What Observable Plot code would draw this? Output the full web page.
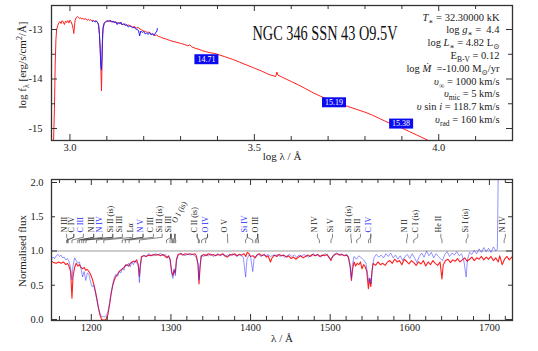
<!DOCTYPE html>
<html><head><meta charset="utf-8">
<script src="https://cdn.jsdelivr.net/npm/d3@7"></script>
<script src="https://cdn.jsdelivr.net/npm/@observablehq/plot@0.6"></script>
<style>body{margin:0;background:#fff} #chart svg{display:block}</style>
</head><body><div id="chart"></div>
<script>
// ---------- TOP PANEL DATA (log lambda vs log f_lambda) ----------
const sedModelLogW = [2.955,2.958,2.960,2.962,2.964,2.967,2.970,2.973,2.976,2.979,2.982,2.985,2.988,2.991,2.994,2.997,3.000,3.003,3.006,3.009,3.0105,3.012,3.014,3.017,3.020,3.023,3.026,3.029,3.032,3.035,3.038,3.041,3.044,3.047,3.050,3.053,3.056,3.059,3.062,3.066,3.070,3.074,3.077,3.080,3.082,3.084,3.0855,3.087,3.0885,3.090,3.093,3.096,3.100,3.104,3.108,3.112,3.116,3.120,3.125,3.130,3.135,3.140,3.145,3.150,3.155,3.160,3.165,3.170,3.175,3.180,3.185,3.190,3.195,3.200,3.205,3.210,3.215,3.220,3.225,3.230,3.235,3.240,3.245,3.250,3.260,3.270,3.280,3.290,3.300,3.310,3.320,3.325,3.330,3.340,3.350,3.360,3.370,3.380,3.390,3.400,3.420,3.440,3.460,3.480,3.500,3.520,3.540,3.558,3.561,3.564,3.580,3.600,3.620,3.640,3.660,3.680,3.700,3.720,3.740,3.760,3.780,3.800,3.820,3.840,3.860,3.880,3.900,3.920,3.940,3.960,3.980];
const sedModelLogF = [-15.4,-14.6,-13.7,-13.2,-13.0,-12.92,-12.86,-12.84,-12.88,-12.82,-12.85,-12.90,-12.83,-12.86,-12.82,-12.87,-12.81,-12.84,-12.90,-13.0,-13.08,-12.95,-12.82,-12.76,-12.74,-12.75,-12.78,-12.76,-12.79,-12.77,-12.80,-12.78,-12.79,-12.81,-12.79,-12.82,-12.80,-12.83,-12.81,-12.84,-12.82,-12.85,-12.88,-13.1,-13.4,-13.8,-14.24,-13.7,-13.2,-12.98,-12.88,-12.85,-12.84,-12.82,-12.84,-12.83,-12.85,-12.84,-12.86,-12.87,-12.86,-12.89,-12.90,-12.89,-12.92,-12.91,-12.93,-12.95,-12.94,-12.97,-12.96,-12.99,-13.01,-13.03,-13.04,-13.06,-13.05,-13.09,-13.10,-13.12,-13.11,-13.14,-13.15,-13.17,-13.19,-13.22,-13.24,-13.26,-13.28,-13.30,-13.33,-13.31,-13.35,-13.38,-13.40,-13.43,-13.45,-13.47,-13.48,-13.50,-13.55,-13.60,-13.66,-13.72,-13.78,-13.84,-13.91,-13.95,-13.86,-13.92,-13.98,-14.05,-14.12,-14.20,-14.28,-14.35,-14.41,-14.47,-14.52,-14.57,-14.62,-14.67,-14.73,-14.80,-14.87,-14.93,-14.99,-15.06,-15.13,-15.20,-15.27];
const sedObsLogW = [3.061,3.064,3.068,3.072,3.075,3.078,3.080,3.082,3.084,3.0855,3.087,3.0885,3.090,3.093,3.097,3.101,3.105,3.109,3.113,3.117,3.121,3.124,3.128,3.131,3.135,3.138,3.142,3.146,3.150,3.154,3.158,3.162,3.166,3.170,3.174,3.178,3.182,3.186,3.189,3.192,3.196,3.200,3.204,3.208,3.212,3.216,3.220,3.224,3.228,3.232,3.236,3.237];
const sedObsLogF = [-12.84,-12.82,-12.85,-12.83,-12.86,-12.92,-13.1,-13.4,-13.75,-13.82,-13.5,-13.1,-12.95,-12.87,-12.84,-12.82,-12.84,-12.81,-12.85,-12.83,-12.87,-12.84,-12.90,-12.86,-12.89,-12.85,-12.91,-12.88,-12.92,-12.90,-12.95,-12.93,-12.94,-12.97,-12.95,-12.99,-13.00,-13.02,-13.13,-13.03,-13.06,-13.04,-13.09,-13.07,-13.10,-13.06,-13.11,-13.08,-13.12,-13.07,-13.03,-12.98];
const magLogW = [3.370, 3.716, 3.898];
const magLogF = [-13.60, -14.47, -14.90];
const magText = ["14.71", "15.19", "15.38"];
const topXTicks = [3.0,3.1,3.2,3.3,3.4,3.5,3.6,3.7,3.8,3.9,4.0,4.1];
const topXLabels = [3.0, 3.5, 4.0];
const topYTicks = [-13,-13.5,-14,-14.5,-15];
const topYLabels = [-13,-14,-15];
const titleText = "NGC 346 SSN 43 O9.5V";
const paramSegs = [
  [["T","i"],["∗","sub"],[" = 32.30000 kK",""]],
  [["log ",""],["g","i"],["∗","sub"],[" =  4.4",""]],
  [["log ",""],["L","i"],["∗","sub"],[" = 4.82 L",""],["⊙","sub"]],
  [["E",""],["B-V","sub"],[" = 0.12",""]],
  [["log ",""],["Ṁ","i"],["  =-10.00 M",""],["⊙","sub"],["/yr",""]],
  [["υ","i"],["∞","sub"],[" = 1000 km/s",""]],
  [["υ","i"],["mic","sub"],[" = 5 km/s",""]],
  [["υ","i"],[" sin ",""],["i","i"],[" = 118.7 km/s",""]],
  [["υ","i"],["rad","sub"],[" = 160 km/s",""]]
];
const topXLabel = "log λ / Å";
const topYLabelSegs = [["log f",""],["λ","sub"],[" [erg/s/cm",""],["2","sup"],["/Å]",""]];

// ---------- BOTTOM PANEL DATA (normalised flux) ----------
const modelW = [1150,1153,1156,1159,1162,1165,1168,1170,1172,1174,1175.7,1177,1179,1181,1183,1185,1187,1189,1191,1193,1195,1197,1199,1201,1203,1205,1207,1209,1211,1213,1215,1217,1219,1221,1223,1225,1227,1229,1231,1233,1235,1237,1239,1241,1243,1245,1247,1249,1251,1253,1255,1257,1259,1260.4,1261.5,1263,1266,1269,1272,1275,1278,1281,1284,1287,1290,1293,1295,1297,1299,1301,1302.5,1304,1305.5,1307,1309,1312,1315,1318,1321,1324,1327,1330,1332,1334,1335.3,1336.5,1338,1341,1344,1347,1350,1353,1356,1359,1362,1365,1368,1371,1374,1377,1380,1383,1386,1389,1392,1394,1396,1398,1400,1403,1406,1408,1411,1414,1417,1420,1422,1425,1427,1430,1433,1436,1439,1442,1445,1448,1451,1454,1457,1460,1463,1466,1469,1472,1475,1478,1481,1484,1487,1490,1493,1496,1499,1501,1503,1506,1509,1512,1515,1518,1521,1523,1525,1526.7,1528,1530,1532,1534,1536,1538,1540,1542,1544,1546,1548,1549.5,1551,1552.5,1554,1557,1560,1563,1566,1569,1572,1575,1578,1581,1584,1587,1590,1593,1596,1599,1602,1605,1608,1611,1614,1617,1620,1623,1626,1629,1632,1635,1638,1640.4,1642,1645,1648,1651,1654,1657,1660,1663,1666,1669,1672,1675,1678,1681,1684,1687,1690,1693,1696,1699,1702,1705,1708,1711,1713,1716,1719,1722,1725,1728];
const modelF = [0.85,0.83,0.82,0.84,0.82,0.84,0.80,0.82,0.78,0.70,0.31,0.62,0.76,0.82,0.78,0.80,0.76,0.74,0.76,0.72,0.73,0.70,0.66,0.60,0.52,0.42,0.30,0.17,0.06,0.0,-0.01,-0.01,0.01,0.08,0.22,0.38,0.50,0.58,0.63,0.66,0.70,0.72,0.74,0.76,0.79,0.80,0.78,0.82,0.84,0.85,0.84,0.87,0.80,0.63,0.78,0.92,0.93,0.92,0.94,0.93,0.95,0.94,0.95,0.93,0.95,0.92,0.90,0.93,0.88,0.70,0.64,0.72,0.68,0.88,0.95,0.96,0.94,0.96,0.95,0.96,0.95,0.96,0.93,0.80,0.52,0.75,0.92,0.95,0.93,0.96,0.94,0.95,0.93,0.95,0.94,0.96,0.93,0.91,0.95,0.94,0.96,0.93,0.95,0.94,0.96,0.92,0.98,0.96,0.92,0.93,0.90,0.94,0.96,0.93,0.95,0.91,0.93,0.84,0.90,0.94,0.92,0.95,0.93,0.94,0.91,0.93,0.89,0.91,0.88,0.91,0.93,0.90,0.92,0.94,0.92,0.95,0.93,0.95,0.92,0.94,0.93,0.95,0.90,0.86,0.92,0.95,0.96,0.94,0.95,0.93,0.94,0.90,0.78,0.57,0.72,0.84,0.78,0.82,0.80,0.84,0.74,0.80,0.77,0.70,0.45,0.60,0.48,0.70,0.82,0.79,0.84,0.80,0.82,0.79,0.84,0.86,0.82,0.88,0.84,0.86,0.80,0.88,0.85,0.81,0.86,0.83,0.79,0.84,0.81,0.86,0.78,0.84,0.80,0.86,0.82,0.79,0.84,0.59,0.80,0.86,0.88,0.83,0.87,0.85,0.89,0.84,0.87,0.90,0.85,0.88,0.91,0.86,0.90,0.88,0.92,0.87,0.91,0.88,0.92,0.86,0.90,0.84,0.93,0.80,0.88,0.92,0.87,0.91];
const obsW = [1150,1152,1154,1156,1158,1160,1162,1164,1166,1168,1170,1172,1174,1175.7,1177,1179,1181,1183,1185,1187,1189,1191,1193,1195,1197,1199,1201,1203,1205,1207,1209,1211,1213,1215,1217,1219,1221,1223,1225,1227,1229,1231,1233,1235,1237,1239,1241,1243,1245,1247,1249,1251,1253,1255,1257,1259,1260.4,1261.5,1263,1266,1269,1272,1275,1278,1281,1284,1287,1290,1293,1295,1297,1299,1301,1302.5,1304,1305.5,1307,1309,1312,1315,1318,1321,1324,1327,1330,1332,1334,1335.3,1336.5,1338,1341,1344,1347,1350,1353,1356,1359,1362,1365,1368,1371,1374,1377,1380,1383,1386,1389,1391,1393.8,1395.5,1398,1400,1402.8,1404.5,1407,1410,1413,1416,1419,1422,1425,1428,1431,1434,1437,1440,1443,1446,1449,1452,1455,1458,1461,1464,1467,1470,1473,1476,1479,1482,1485,1488,1491,1494,1497,1500,1502,1505,1508,1511,1514,1517,1520,1523,1525,1526.7,1528,1530,1533,1536,1539,1542,1545,1547,1548.5,1550,1551.5,1553,1555,1558,1561,1564,1567,1570,1573,1576,1579,1582,1585,1588,1591,1594,1597,1600,1603,1606,1609,1612,1615,1618,1621,1624,1627,1630,1633,1636,1639,1641,1644,1647,1650,1653,1656,1659,1662,1665,1668,1670.8,1672.5,1675,1678,1681,1684,1687,1690,1693,1696,1699,1702,1705,1708,1710,1711.5];
const obsF = [0.88,0.91,0.89,0.93,0.95,0.92,0.94,0.90,0.91,0.87,0.89,0.85,0.75,0.58,0.78,0.90,0.86,0.82,0.84,0.75,0.62,0.70,0.57,0.68,0.66,0.55,0.48,0.50,0.40,0.28,0.16,0.08,0.04,0.04,0.04,0.06,0.12,0.25,0.40,0.52,0.62,0.66,0.63,0.70,0.68,0.75,0.72,0.80,0.78,0.82,0.77,0.84,0.80,0.86,0.83,0.78,0.54,0.75,0.90,0.94,0.92,0.96,0.94,0.93,0.96,0.94,0.97,0.93,0.95,0.91,0.92,0.86,0.66,0.60,0.74,0.64,0.86,0.93,0.97,0.95,0.93,0.96,0.94,0.95,0.93,0.90,0.82,0.58,0.78,0.94,0.92,0.95,0.93,0.96,0.92,0.94,0.96,0.93,0.95,0.92,0.94,0.93,0.96,0.94,0.92,0.95,0.93,0.90,0.62,0.88,0.94,0.92,0.70,0.90,0.93,0.95,0.92,0.94,0.93,0.95,0.92,0.94,0.93,0.95,0.92,0.94,0.91,0.93,0.95,0.92,0.94,0.91,0.94,0.92,0.95,0.93,0.91,0.94,0.96,0.93,0.95,0.91,0.94,0.96,0.93,0.88,0.90,0.95,0.97,0.94,0.96,0.93,0.95,0.92,0.80,0.60,0.80,0.92,0.88,0.93,0.90,0.87,0.82,0.66,0.55,0.60,0.52,0.76,0.90,0.95,0.91,0.94,0.90,0.96,0.92,0.97,0.90,0.94,0.88,0.93,0.86,0.92,0.95,0.89,0.96,0.90,0.83,0.92,0.97,0.91,1.00,0.93,0.98,0.90,0.96,0.92,0.88,0.86,0.95,0.99,0.92,0.97,0.94,0.99,0.93,0.96,0.85,0.62,0.88,0.98,0.95,1.01,0.96,1.03,0.98,1.05,0.99,1.04,0.98,1.06,1.00,1.03,2.6];
const botXTicks = [1160,1180,1200,1220,1240,1260,1280,1300,1320,1340,1360,1380,1400,1420,1440,1460,1480,1500,1520,1540,1560,1580,1600,1620,1640,1660,1680,1700,1720];
const botXLabels = [1200,1300,1400,1500,1600,1700];
const botYTicks = [0,0.5,1,1.5,2];
const botXLabel = "λ / Å";
const botYLabel = "Normalised flux";
// line identifications
const lineNames = ["N III","C IV","C III","N III","N IV","Si II (is)","Si III","Lα","N V","C III","Si II (is)","Si III","O I (is)","C II (is)","O IV","O V","Si IV","O III","N IV","Si V","Si II (is)","Si II","C IV","N II","C I (is)","He II","Si I (is)","N IV"];
const lineLabelPos = [1169,1178,1190,1203,1214,1227,1239,1252,1265,1278,1289,1300,1305,1333,1346,1371,1396,1409,1484,1503,1526,1538,1551,1597,1610,1639,1673,1720];
const lineWaves = [[1171],[1169,1170],[1175.7],[1183,1185],[1188],[1190.4,1193.3],[1206.5],[1215.7],[1238.8,1242.8],[1247.4],[1260.4],[1294.5,1298.9,1301.1,1303.3],[1302.2,1304.9,1306.0],[1334.5,1335.7],[1338.6,1343.5],[1371.3],[1393.8,1402.8],[1406,1408,1410],[1486.5],[1501],[1526.7],[1533.4],[1548.2,1550.8],[1596],[1605],[1640.4],[1670.8],[1718.5]];
const blueLines = ["C III#2","N IV#4","N V#8","O IV#14","Si IV#16","C IV#22"];

// ---------- styling ----------
const FONT = "'Liberation Serif','DejaVu Serif',serif";
const RED = "#ff1f1f";
const FRAME = "#333";
const HT = 135, HB = 141, WF = 461;
const blueIdx = new Set(blueLines.map(s => +s.split("#")[1]));
const tilted = 12;

const zip = (a, b) => a.map((v, i) => ({x: v, y: b[i]}));
const plain = segs => segs.map(s => s[0]).join("");
const boxSymbol = {draw(ctx) { ctx.moveTo(-12, -5); ctx.lineTo(12, -5); ctx.lineTo(12, 5); ctx.lineTo(-12, 5); ctx.closePath(); }};

function inwardTicks(xs, ys, H, W, majorX, majorY) {
  const m = [];
  const lx = d => (majorX.includes(d) ? 6 : 4);
  const ly = d => (majorY.includes(d) ? 6 : 4);
  for (const d of xs) {
    m.push(Plot.tickX([d], {x: v => v, insetTop: H - lx(d), stroke: FRAME}));
    m.push(Plot.tickX([d], {x: v => v, insetBottom: H - lx(d), stroke: FRAME}));
  }
  for (const d of ys) {
    m.push(Plot.tickY([d], {y: v => v, insetRight: W - ly(d), stroke: FRAME}));
    m.push(Plot.tickY([d], {y: v => v, insetLeft: W - ly(d), stroke: FRAME}));
  }
  return m;
}

function richify(svg, segs) {
  const p = plain(segs);
  svg.querySelectorAll("text").forEach(t => {
    if (t.textContent !== p) return;
    t.textContent = "";
    let shift = 0;
    for (const [s, st] of segs) {
      const ts = document.createElementNS("http://www.w3.org/2000/svg", "tspan");
      ts.textContent = s;
      const target = st === "sub" ? 3 : st === "sup" ? -4 : 0;
      if (target !== shift) { ts.setAttribute("dy", target - shift); shift = target; }
      if (st === "sub" || st === "sup") ts.setAttribute("font-size", "72%");
      if (st === "i") ts.setAttribute("font-style", "italic");
      t.appendChild(ts);
    }
    t.setAttribute("xml:space", "preserve");
  });
}

// ---------- TOP PLOT ----------
const magRows = magText.map((t, i) => ({x: magLogW[i], y: magLogF[i], t}));
const topPlot = Plot.plot({
  width: 538, height: 168, marginLeft: 51, marginRight: 26, marginTop: 5, marginBottom: 28,
  style: {fontFamily: FONT, fontSize: "10.5px", background: "white", color: "#222"},
  x: {domain: [2.95, 4.2]},
  y: {domain: [-15.242, -12.515]},
  marks: [
    Plot.line(zip(sedModelLogW, sedModelLogF), {x: "x", y: "y", stroke: RED, strokeWidth: 1, clip: true}),
    Plot.line(zip(sedObsLogW, sedObsLogF), {x: "x", y: "y", stroke: "#2222ff", strokeWidth: 1, clip: true}),
    Plot.dot(magRows, {x: "x", y: "y", symbol: boxSymbol, fill: "#0b0bf2", stroke: null}),
    Plot.text(magRows, {x: "x", y: "y", text: "t", fill: "white", fontSize: 8, fontFamily: FONT}),
    Plot.frame({stroke: FRAME, strokeWidth: 1.3}),
    ...inwardTicks(topXTicks, topYTicks, HT, WF, topXLabels, topYLabels),
    Plot.axisX(topXLabels, {tickSize: 0, tickPadding: 3, tickFormat: d => d.toFixed(1), label: null, fontFamily: FONT}),
    Plot.axisY(topYLabels, {tickSize: 0, tickPadding: 9, tickFormat: d => String(d), label: null, fontFamily: FONT}),
    Plot.text([titleText], {text: d => d, frameAnchor: "top-left", dx: 201, dy: 19.3, fontSize: 21, textAnchor: "start", fill: "#111", fontFamily: FONT}),
    ...paramSegs.map((segs, i) => Plot.text([plain(segs)], {text: d => d, frameAnchor: "top-right", dx: -13, dy: 7.6 + i * 12.8, textAnchor: "end", fontSize: 10.5, fill: "#222", fontFamily: FONT})),
    Plot.text([topXLabel], {text: d => d, frameAnchor: "bottom", dy: 19, fontSize: 11, textAnchor: "middle", fontFamily: FONT}),
    Plot.text([plain(topYLabelSegs)], {text: d => d, frameAnchor: "left", dx: -29, dy: -8, rotate: -90, fontSize: 11, textAnchor: "middle", fontFamily: FONT})
  ]
});
const titleEl = [...topPlot.querySelectorAll("text")].find(t => t.textContent === titleText);
if (titleEl) { titleEl.setAttribute("textLength", 145); titleEl.setAttribute("lengthAdjust", "spacingAndGlyphs"); }
paramSegs.forEach(segs => richify(topPlot, segs));
richify(topPlot, topYLabelSegs);

// ---------- BOTTOM PLOT ----------
const yTop = 1.245, yMid = 1.2, yLow = 1.16, yBot = 1.12;
const connectors = [];
lineWaves.forEach((ws, i) => ws.forEach((w, j) => {
  const k = i + "-" + j;
  connectors.push({x: lineLabelPos[i], y: yTop, k}, {x: lineLabelPos[i], y: yMid, k}, {x: w, y: yLow, k}, {x: w, y: yBot, k});
}));
const idx = lineNames.map((_, i) => i).filter(i => i !== tilted);
const botPlot = Plot.plot({
  width: 538, height: 183, marginLeft: 51, marginRight: 26, marginTop: 11, marginBottom: 31,
  style: {fontFamily: FONT, fontSize: "10.5px", background: "white", color: "#222"},
  x: {domain: [1150, 1729]},
  y: {domain: [-0.015, 2.044]},
  marks: [
    Plot.ruleY([1], {stroke: "#9a9a9a", strokeWidth: 1}),
    Plot.line(zip(modelW, modelF), {x: "x", y: "y", stroke: RED, strokeWidth: 1.1, clip: true}),
    Plot.line(zip(obsW, obsF), {x: "x", y: "y", stroke: "#2a2aff", strokeOpacity: 0.5, strokeWidth: 1, clip: true}),
    Plot.line(connectors, {x: "x", y: "y", z: "k", stroke: "#333", strokeWidth: 0.6}),
    Plot.text(idx.filter(i => !blueIdx.has(i)), {x: i => lineLabelPos[i], text: i => lineNames[i], frameAnchor: "bottom", dy: -88, rotate: -90, textAnchor: "start", fontSize: 8, fill: "#222", fontFamily: FONT}),
    Plot.text(idx.filter(i => blueIdx.has(i)), {x: i => lineLabelPos[i], text: i => lineNames[i], frameAnchor: "bottom", dy: -88, rotate: -90, textAnchor: "start", fontSize: 8, fill: "#2626ff", fontFamily: FONT}),
    Plot.text([tilted], {x: i => lineLabelPos[i] + 1.5, text: i => lineNames[i], frameAnchor: "bottom", dy: -97, rotate: -62, textAnchor: "start", fontSize: 8, fill: "#222", fontFamily: FONT}),
    Plot.frame({stroke: FRAME, strokeWidth: 1.3}),
    ...inwardTicks(botXTicks, botYTicks, HB, WF, botXLabels, [0, 1, 2]),
    Plot.axisX(botXLabels, {tickSize: 0, tickPadding: 3, tickFormat: d => String(d), label: null, fontFamily: FONT}),
    Plot.axisY(botYTicks, {tickSize: 0, tickPadding: 8, tickFormat: d => d.toFixed(1), label: null, fontFamily: FONT}),
    Plot.text([botXLabel], {text: d => d, frameAnchor: "bottom", dy: 21, fontSize: 11, textAnchor: "middle", fontFamily: FONT}),
    Plot.text([botYLabel], {text: d => d, frameAnchor: "left", dx: -29, dy: 1, rotate: -90, fontSize: 11, textAnchor: "middle", fontFamily: FONT})
  ]
});

const root = document.getElementById("chart");
root.appendChild(topPlot);
root.appendChild(botPlot);
</script></body></html>
